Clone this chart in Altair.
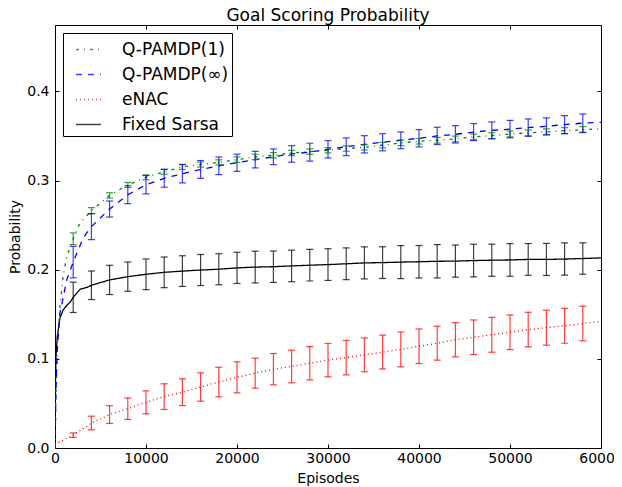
import altair as alt
import pandas as pd

# ---------------- data ----------------
series_names = ["Q-PAMDP(1)", "Q-PAMDP(∞)", "eNAC", "Fixed Sarsa"]
series_colors = ["#008000", "#0000ff", "#ff0000", "#000000"]
series_dashes = [[3, 5, 1, 5], [6, 6], [1, 3], [1, 0]]

x_ticks = [0, 10000, 20000, 30000, 40000, 50000, 60000]
y_ticks = [0.0, 0.1, 0.2, 0.3, 0.4]

err_episodes = [2000, 4000, 6000, 8000, 10000, 12000, 14000, 16000, 18000, 20000,
                22000, 24000, 26000, 28000, 30000, 32000, 34000, 36000, 38000, 40000,
                42000, 44000, 46000, 48000, 50000, 52000, 54000, 56000, 58000]
end_episode = 60000

q1_mean = [0.2347, 0.2661, 0.2833, 0.2950, 0.3036, 0.3098, 0.3152, 0.3178, 0.3204, 0.3234,
           0.3264, 0.3283, 0.3309, 0.3324, 0.3339, 0.3358, 0.3372, 0.3396, 0.3422, 0.3440,
           0.3451, 0.3466, 0.3489, 0.3503, 0.3522, 0.3534, 0.3545, 0.3559, 0.3571]
q1_err = [0.0065, 0.0035, 0.0030, 0.0028, 0.0027, 0.0027, 0.0028, 0.0028, 0.0028, 0.0030,
          0.0030, 0.0030, 0.0030, 0.0030, 0.0030, 0.0030, 0.0030, 0.0031, 0.0031, 0.0031,
          0.0032, 0.0032, 0.0032, 0.0033, 0.0033, 0.0033, 0.0034, 0.0034, 0.0034]
q1_early_eps = [0, 100, 300, 550, 900, 1300, 2750]
q1_early = [0.0, 0.06, 0.12, 0.159, 0.193, 0.215, 0.2525]
q1_end = 0.3579

qinf_mean = [0.2085, 0.2483, 0.2680, 0.2840, 0.2953, 0.3025, 0.3076, 0.3124, 0.3165, 0.3199,
             0.3234, 0.3266, 0.3298, 0.3318, 0.3350, 0.3378, 0.3406, 0.3429, 0.3451, 0.3474,
             0.3500, 0.3518, 0.3543, 0.3562, 0.3576, 0.3593, 0.3608, 0.3627, 0.3643]
qinf_err = [0.0177, 0.0146, 0.0090, 0.0100, 0.0103, 0.0100, 0.0103, 0.0100, 0.0099, 0.0096,
            0.0093, 0.0088, 0.0093, 0.0100, 0.0097, 0.0099, 0.0097, 0.0096, 0.0094, 0.0097,
            0.0097, 0.0097, 0.0095, 0.0095, 0.0098, 0.0097, 0.0094, 0.0101, 0.0103]
qinf_early_eps = [0, 100, 200, 550, 750, 1300, 3100]
qinf_early = [0.0, 0.06, 0.103, 0.152, 0.161, 0.189, 0.2357]
qinf_end = 0.3653

enac_mean = [0.0144, 0.0280, 0.0375, 0.0441, 0.0512, 0.0576, 0.0626, 0.0684, 0.0740, 0.0792,
             0.0839, 0.0884, 0.0914, 0.0951, 0.0985, 0.1013, 0.1044, 0.1076, 0.1106, 0.1141,
             0.1175, 0.1214, 0.1242, 0.1270, 0.1298, 0.1328, 0.1349, 0.1371, 0.1396]
enac_err = [0.0025, 0.0077, 0.0100, 0.0120, 0.0129, 0.0144, 0.0150, 0.0159, 0.0166, 0.0174,
            0.0168, 0.0176, 0.0183, 0.0187, 0.0187, 0.0193, 0.0190, 0.0190, 0.0196, 0.0194,
            0.0190, 0.0192, 0.0194, 0.0196, 0.0194, 0.0194, 0.0196, 0.0196, 0.0194]
enac_early_eps = [0]
enac_early = [0.004]
enac_end = 0.1422

sarsa_mean = [0.1690, 0.1825, 0.1885, 0.1922, 0.1948, 0.1970, 0.1984, 0.1996, 0.2005, 0.2020,
              0.2029, 0.2033, 0.2042, 0.2050, 0.2057, 0.2066, 0.2076, 0.2079, 0.2085, 0.2089,
              0.2094, 0.2096, 0.2102, 0.2106, 0.2109, 0.2115, 0.2115, 0.2119, 0.2125]
sarsa_err = [0.0170, 0.0160, 0.0164, 0.0164, 0.0172, 0.0172, 0.0172, 0.0174, 0.0174, 0.0175,
             0.0178, 0.0176, 0.0177, 0.0177, 0.0178, 0.0178, 0.0180, 0.0178, 0.0185, 0.0182,
             0.0187, 0.0180, 0.0183, 0.0180, 0.0183, 0.0178, 0.0180, 0.0181, 0.0176]
sarsa_early_eps = [0, 50, 110, 250, 550, 900, 1300, 1700, 2750, 3500]
sarsa_early = [0.0, 0.07, 0.103, 0.125, 0.146, 0.155, 0.160, 0.164, 0.178, 0.180]
sarsa_end = 0.2132

# ---------------- tables ----------------
groups = [
    (series_names[0], q1_early_eps, q1_early, q1_mean, q1_err, q1_end),
    (series_names[1], qinf_early_eps, qinf_early, qinf_mean, qinf_err, qinf_end),
    (series_names[2], enac_early_eps, enac_early, enac_mean, enac_err, enac_end),
    (series_names[3], sarsa_early_eps, sarsa_early, sarsa_mean, sarsa_err, sarsa_end),
]
line_rows, err_rows = [], []
for name, e_eps, e_vals, means, errs, endv in groups:
    for ep, v in zip(e_eps, e_vals):
        line_rows.append({"series": name, "ep": ep, "val": v})
    for ep, m, e in zip(err_episodes, means, errs):
        line_rows.append({"series": name, "ep": ep, "val": m})
        err_rows.append({"series": name, "ep": ep, "lo": m - e, "hi": m + e})
    line_rows.append({"series": name, "ep": end_episode, "val": endv})
line_df = pd.DataFrame(line_rows).sort_values(["series", "ep"])
err_df = pd.DataFrame(err_rows)

FONT = "DejaVu Sans"
xscale = alt.Scale(domain=[0, 60000], nice=False, zero=False)
yscale = alt.Scale(domain=[0, 0.4744], nice=False, zero=False)
color_scale = alt.Scale(domain=series_names, range=series_colors)

legend_obj = alt.Legend(
    title=None, orient="none", legendX=8, legendY=8,
    symbolType="stroke", symbolSize=625, symbolStrokeWidth=1.3,
    labelFontSize=17, labelFont=FONT, labelColor="black", labelOffset=20,
    strokeColor="black", fillColor="white", padding=3, rowPadding=3,
    symbolOffset=9,
)
color_legend = alt.Color("series:N", scale=color_scale, legend=legend_obj)
color_plain = alt.Color("series:N", scale=color_scale)

x_axis_bottom = alt.Axis(values=x_ticks, format="d", labelFlush=False, domain=False, grid=False,
                         tickSize=4, tickColor="black", offset=-4, labelPadding=3,
                         labelFontSize=14, labelFont=FONT, labelColor="black",
                         title="Episodes", titleFont=FONT, titleFontSize=14,
                         titleFontWeight="normal", titleColor="black", titlePadding=6)
y_axis_left = alt.Axis(values=y_ticks, format=".1f", domain=False, grid=False,
                       tickSize=4, tickColor="black", offset=-4, labelPadding=6,
                       labelFontSize=14, labelFont=FONT, labelColor="black",
                       title="Probability", titleFont=FONT, titleFontSize=14,
                       titleFontWeight="normal", titleColor="black", titlePadding=4)
x_axis_top = alt.Axis(orient="top", values=x_ticks, labels=False, domain=False, grid=False,
                      tickSize=4, tickColor="black", offset=-4, title=None)
y_axis_right = alt.Axis(orient="right", values=y_ticks, labels=False, domain=False, grid=False,
                        tickSize=4, tickColor="black", offset=-4, title=None)

lines = alt.Chart(line_df).mark_line(strokeWidth=1.3, clip=True).encode(
    x=alt.X("ep:Q", scale=xscale, axis=x_axis_bottom),
    y=alt.Y("val:Q", scale=yscale, axis=y_axis_left),
    color=color_legend,
    strokeDash=alt.StrokeDash("series:N",
                              scale=alt.Scale(domain=series_names, range=series_dashes),
                              legend=legend_obj),
)
rules = alt.Chart(err_df).mark_rule(strokeWidth=1.2, opacity=0.75).encode(
    x=alt.X("ep:Q", scale=xscale, axis=x_axis_top),
    y=alt.Y("lo:Q", scale=yscale, axis=y_axis_right),
    y2="hi:Q",
    color=color_plain,
)
caps_lo = alt.Chart(err_df).mark_tick(orient="horizontal", size=7, thickness=1.2, opacity=0.75).encode(
    x=alt.X("ep:Q", scale=xscale, axis=None),
    y=alt.Y("lo:Q", scale=yscale, axis=None),
    color=color_plain,
)
caps_hi = alt.Chart(err_df).mark_tick(orient="horizontal", size=7, thickness=1.2, opacity=0.75).encode(
    x=alt.X("ep:Q", scale=xscale, axis=None),
    y=alt.Y("hi:Q", scale=yscale, axis=None),
    color=color_plain,
)

chart = alt.layer(lines, rules, caps_lo, caps_hi).resolve_axis(
    x="independent", y="independent"
).properties(
    width=546, height=423,
    background="white",
    autosize=alt.AutoSizeParams(type="none"),
    padding={"left": 47, "top": 17, "right": 13, "bottom": 42},
    title=alt.TitleParams("Goal Scoring Probability", font=FONT, fontSize=17,
                          fontWeight="normal", color="black", anchor="middle",
                          baseline="alphabetic", offset=5, dy=18),
).configure_view(stroke="black", strokeWidth=1)

chart.save("out.html", embed_options={"renderer": "svg", "actions": False})
